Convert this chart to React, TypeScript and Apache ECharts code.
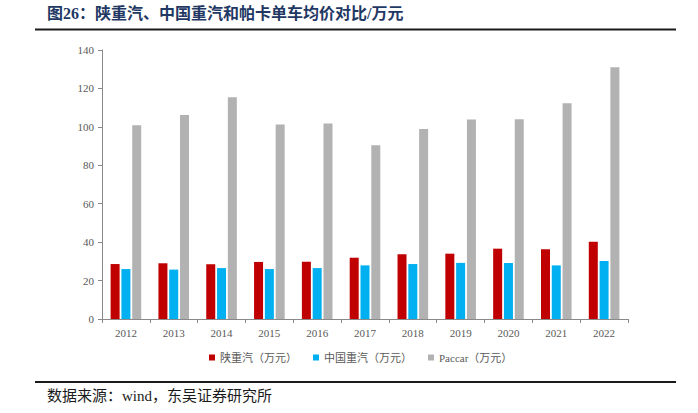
import React, { useEffect, useRef } from "react";
import * as echarts from "echarts";

const years = ["2012", "2013", "2014", "2015", "2016", "2017", "2018", "2019", "2020", "2021", "2022"];
const shaanxi = [28.6, 29.0, 28.5, 29.7, 29.8, 31.9, 33.7, 34.0, 36.6, 36.3, 40.2];
const sinotruk = [26.0, 25.7, 26.5, 26.0, 26.5, 27.9, 28.6, 29.2, 29.2, 27.9, 30.2];
const paccar = [100.8, 106.2, 115.4, 101.2, 101.7, 90.4, 98.9, 103.8, 103.9, 112.3, 131.0];
const seriesNames = ["陕重汽（万元）", "中国重汽（万元）", "Paccar（万元）"];

const SERIF = "'Liberation Serif', 'Times New Roman', 'Noto Sans CJK SC', serif";

export default function App() {
  const ref = useRef<HTMLDivElement>(null);
  useEffect(() => {
    if (!ref.current) return;
    const chart = echarts.init(ref.current, null, { renderer: "svg" });
    const mk = (name: string, data: number[], color: string) => ({
      name,
      type: "bar",
      data,
      barWidth: 9,
      barGap: "20%",
      itemStyle: { color },
    });
    chart.setOption({
      animation: false,
      backgroundColor: "#ffffff",
      grid: { left: 102, right: 70, top: 50, bottom: 94 },
      legend: {
        left: 204,
        top: 347,
        itemWidth: 6,
        itemHeight: 6,
        itemGap: 16,
        icon: "rect",
        textStyle: { fontFamily: SERIF, fontSize: 11, color: "#595959" },
        data: seriesNames,
      },
      xAxis: {
        type: "category",
        data: years,
        axisLine: { lineStyle: { color: "#898989", width: 1 } },
        axisTick: { show: true, length: 4, lineStyle: { color: "#898989" } },
        axisLabel: { fontFamily: SERIF, fontSize: 11, color: "#595959", margin: 8 },
      },
      yAxis: {
        type: "value",
        min: 0,
        max: 140,
        interval: 20,
        splitLine: { show: false },
        axisLine: { show: true, lineStyle: { color: "#898989", width: 1 } },
        axisTick: { show: true, length: 4, lineStyle: { color: "#898989" } },
        axisLabel: { fontFamily: SERIF, fontSize: 11, color: "#595959", margin: 8 },
      },
      series: [
        mk(seriesNames[0], shaanxi, "#C00000"),
        mk(seriesNames[1], sinotruk, "#00B0F0"),
        mk(seriesNames[2], paccar, "#B2B2B2"),
      ],
      graphic: [
        {
          type: "text",
          left: 47,
          top: 5,
          style: {
            text: "图26：陕重汽、中国重汽和帕卡单车均价对比/万元",
            font: "bold 16px " + SERIF,
            fill: "#1F3864",
          },
        },
        {
          type: "line",
          shape: { x1: 35, y1: 29.5, x2: 676, y2: 29.5 },
          style: { stroke: "#1a1a1a", lineWidth: 2 },
        },
        {
          type: "line",
          shape: { x1: 35, y1: 382, x2: 676, y2: 382 },
          style: { stroke: "#1a1a1a", lineWidth: 2 },
        },
        {
          type: "text",
          left: 47,
          top: 388,
          style: {
            text: "数据来源：wind，东吴证券研究所",
            font: "15px " + SERIF,
            fill: "#1a1a1a",
          },
        },
      ],
    });
    return () => chart.dispose();
  }, []);
  return <div ref={ref} style={{ width: 698, height: 413, position: "absolute", left: 0, top: 0 }} />;
}
